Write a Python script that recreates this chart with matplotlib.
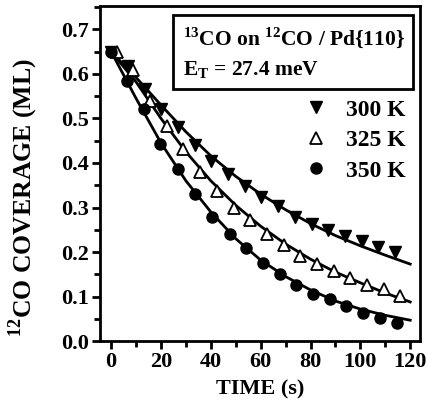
import matplotlib
matplotlib.use("Agg")
import matplotlib.pyplot as plt
from matplotlib.ticker import MultipleLocator
from matplotlib.patches import Rectangle

plt.rcParams['font.family'] = ['Liberation Serif', 'DejaVu Serif']
plt.rcParams['font.weight'] = 'bold'
plt.rcParams['mathtext.fontset'] = 'custom'
plt.rcParams['mathtext.rm'] = 'Liberation Serif:bold'
plt.rcParams['mathtext.bf'] = 'Liberation Serif:bold'

# data points
t_300 = [0, 6.7, 13.4, 20.1, 26.8, 33.5, 40.2, 46.9, 53.6, 60.3, 67.0, 73.7, 80.4, 87.1, 93.8, 100.5, 107.2, 113.9]
v_300 = [0.650, 0.618, 0.567, 0.522, 0.480, 0.441, 0.405, 0.375, 0.349, 0.324, 0.303, 0.279, 0.263, 0.249, 0.235, 0.225, 0.212, 0.201]
t_325 = [2.2, 8.9, 15.6, 22.3, 29.0, 35.7, 42.4, 49.1, 55.8, 62.5, 69.2, 75.9, 82.6, 89.3, 96.0, 102.7, 109.4, 116.1]
v_325 = [0.649, 0.608, 0.540, 0.482, 0.431, 0.379, 0.338, 0.300, 0.272, 0.240, 0.216, 0.191, 0.174, 0.158, 0.142, 0.125, 0.116, 0.101]
t_350 = [0, 6.5, 13.0, 19.7, 27.0, 33.7, 40.4, 47.5, 54.2, 60.9, 67.6, 74.3, 81.0, 87.7, 94.4, 101.0, 107.8, 114.7]
v_350 = [0.650, 0.585, 0.521, 0.443, 0.386, 0.330, 0.279, 0.240, 0.210, 0.176, 0.150, 0.126, 0.106, 0.094, 0.079, 0.064, 0.052, 0.041]

# fitted curves
t_fit = [0, 10, 20, 30, 40, 50, 60, 70, 80, 90, 100, 110, 120]
f_300 = [0.650, 0.592, 0.530, 0.470, 0.416, 0.370, 0.330, 0.295, 0.264, 0.237, 0.214, 0.193, 0.173]
f_325 = [0.650, 0.582, 0.500, 0.425, 0.360, 0.305, 0.258, 0.218, 0.184, 0.155, 0.131, 0.108, 0.088]
f_350 = [0.650, 0.545, 0.445, 0.360, 0.290, 0.230, 0.182, 0.145, 0.115, 0.090, 0.072, 0.058, 0.047]

labels = ['300 K', '325 K', '350 K']
yticks = [0, 0.1, 0.2, 0.3, 0.4, 0.5, 0.6, 0.7]
yticklabels = ['0.0', '0.1', '0.2', '0.3', '0.4', '0.5', '0.6', '0.7']

fig = plt.figure(figsize=(4.27, 4.13), dpi=100)
ax = fig.add_axes([0.234, 0.174, 0.750, 0.811])

for f in (f_300, f_325, f_350):
    ax.plot(t_fit, f, color='black', lw=2.0, zorder=2)

ms = 8.5
h1, = ax.plot(t_300, v_300, linestyle='none', marker='v', ms=ms, mfc='black', mec='black', zorder=3)
h2, = ax.plot(t_325, v_325, linestyle='none', marker='^', ms=ms, mfc='white', mec='black', mew=1.3, zorder=3)
h3, = ax.plot(t_350, v_350, linestyle='none', marker='o', ms=8, mfc='black', mec='black', zorder=3)

ax.set_xlim(-4.5, 124)
ax.set_ylim(0, 0.752)
ax.xaxis.set_major_locator(MultipleLocator(20))
ax.xaxis.set_minor_locator(MultipleLocator(10))
ax.yaxis.set_minor_locator(MultipleLocator(0.05))
ax.set_yticks(yticks)
ax.set_yticklabels(yticklabels)
ax.tick_params(which='major', direction='out', length=6, width=2, labelsize=16, pad=2)
ax.tick_params(which='minor', direction='out', length=4, width=2)
for s in ax.spines.values():
    s.set_linewidth(2)
for lab in ax.get_xticklabels() + ax.get_yticklabels():
    lab.set_fontweight('bold')

ax.set_xlabel('TIME (s)', fontsize=16, fontweight='bold', labelpad=5)
ax.set_ylabel(r'$^{\mathbf{12}}$CO COVERAGE (ML)', fontsize=18.5, fontweight='bold')
ax.yaxis.set_label_coords(-0.188, 0.427)

# annotation box
ax.add_patch(Rectangle((0.228, 0.752), 0.75, 0.221, transform=ax.transAxes,
                       fc='white', ec='black', lw=2, zorder=4))
ax.text(0.259, 0.907, r'$^{\mathbf{13}}$CO on $^{\mathbf{12}}$CO / Pd{110}',
        transform=ax.transAxes, ha='left', va='center', fontsize=15.5, fontweight='bold', zorder=5)
ax.text(0.259, 0.809, r'E$_{\mathbf{T}}$ = 27.4 meV',
        transform=ax.transAxes, ha='left', va='center', fontsize=15.5, fontweight='bold', zorder=5)

# legend
ax.legend([h1, h2, h3], labels, loc='upper right',
          bbox_to_anchor=(1.0, 0.765), frameon=False, handlelength=1.0,
          handletextpad=0.8, labelspacing=0.38, borderaxespad=0.2,
          prop={'weight': 'bold', 'size': 17})

fig.savefig('out.png', dpi=100)
